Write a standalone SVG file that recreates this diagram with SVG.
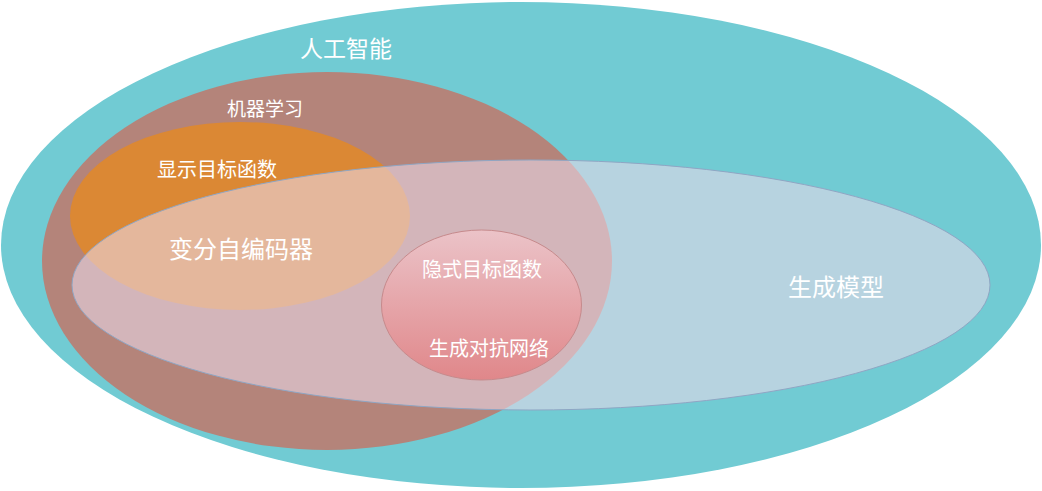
<svg xmlns="http://www.w3.org/2000/svg" width="1042" height="491" viewBox="0 0 1042 491">
<defs>
<linearGradient id="gGan" x1="0" y1="0" x2="0" y2="1">
<stop offset="0" stop-color="#EBC3C8"/>
<stop offset="1" stop-color="#E0878A"/>
</linearGradient>
<style>
text{font-family:"Noto Sans CJK SC","Noto Sans",sans-serif;fill:#FFFFFF;text-anchor:middle;dominant-baseline:central}
</style>
</defs>
<rect width="1042" height="491" fill="#FFFFFF"/>
<g id="ai">
<ellipse cx="521" cy="245" rx="520" ry="243" fill="#71CBD3"/>
<text x="346" y="47" font-size="23">人工智能</text>
</g>
<g id="ml">
<ellipse cx="327" cy="261" rx="285" ry="189" fill="#B4847A"/>
<text x="265" y="107" font-size="19">机器学习</text>
</g>
<g id="explicit">
<ellipse cx="240" cy="216" rx="170" ry="94" fill="#DB8834"/>
<text x="217" y="168" font-size="20">显示目标函数</text>
</g>
<g id="generative">
<ellipse cx="531" cy="285" rx="459" ry="125" fill="#EBD9E8" fill-opacity="0.58" stroke="#8FA6C4" stroke-width="1"/>
<text x="836" y="285" font-size="24">生成模型</text>
</g>
<g id="vae">
<text x="241" y="247" font-size="24">变分自编码器</text>
</g>
<g id="implicit">
<ellipse cx="481.5" cy="305" rx="100" ry="75" fill="url(#gGan)" stroke="#C68A8C" stroke-width="1"/>
<text x="482" y="268" font-size="20">隐式目标函数</text>
</g>
<g id="gan">
<text x="489" y="347" font-size="20">生成对抗网络</text>
</g>
<g id="connectors"/>
</svg>
